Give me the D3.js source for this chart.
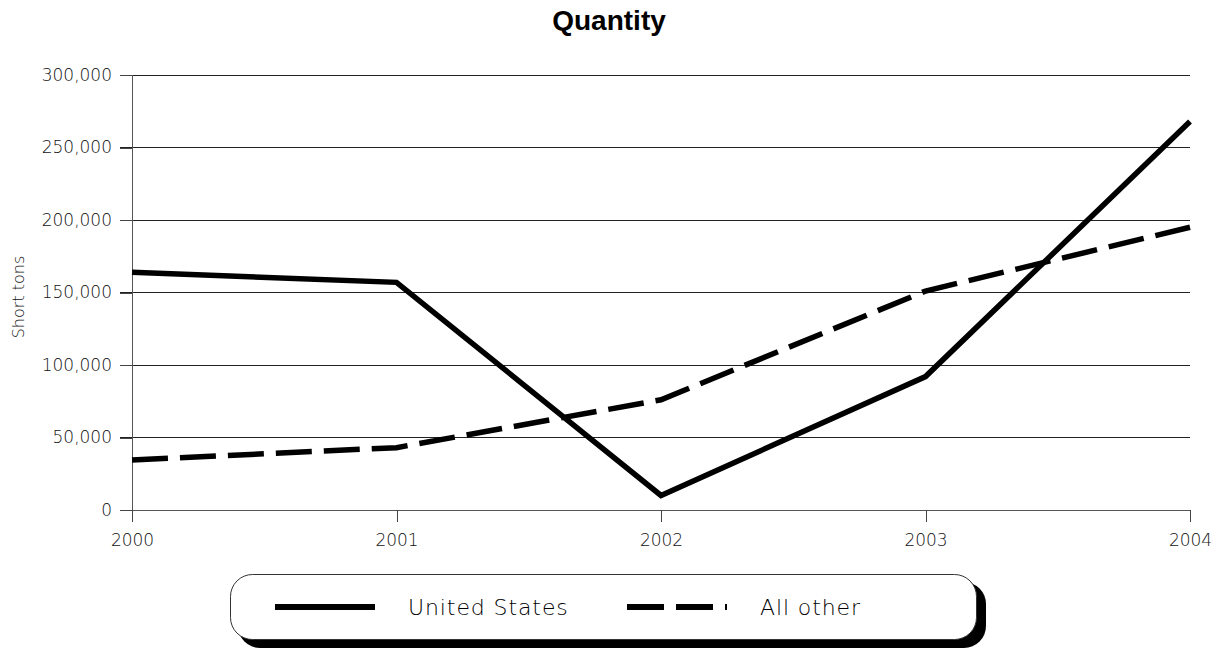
<!DOCTYPE html>
<html><head><meta charset="utf-8">
<script src="https://cdn.jsdelivr.net/npm/d3@7"></script>
<style>body{margin:0;background:#fff;}svg{display:block;}</style>
</head><body>
<script>
const years = [2000, 2001, 2002, 2003, 2004];
const unitedStates = [164000, 157000, 10000, 92000, 268000];
const allOther = [34500, 43000, 76000, 151000, 195000];
const yTicks = [0, 50000, 100000, 150000, 200000, 250000, 300000];
const seriesNames = ["United States", "All other"];

const W = 1228, H = 648;
const svg = d3.select("body").append("svg").attr("width", W).attr("height", H);
const m = {left: 132, right: 1190, top: 75, bottom: 510};
const x = d3.scaleLinear().domain([2000, 2004]).range([m.left, m.right]);
const y = d3.scaleLinear().domain([0, 300000]).range([m.bottom, m.top]);
const tfont = "Liberation Sans, Arial, sans-serif";
const lfont = "DejaVu Sans, sans-serif";

svg.append("text").attr("x", 609).attr("y", 30).attr("text-anchor", "middle")
  .attr("font-family", tfont).attr("font-weight", "bold").attr("font-size", 28).text("Quantity");

// gridlines
svg.append("g").selectAll("line").data(yTicks.slice(1)).join("line")
  .attr("x1", 120).attr("x2", m.right).attr("y1", d => y(d)).attr("y2", d => y(d))
  .attr("stroke", "#222").attr("stroke-width", 1).attr("shape-rendering", "crispEdges");

// y axis
const yAxis = d3.axisLeft(y).tickValues(yTicks).tickSize(12).tickPadding(8)
  .tickFormat(d3.format(","));
const gy = svg.append("g").attr("transform", `translate(${m.left},0)`).call(yAxis);
gy.select(".domain").attr("stroke", "#555").attr("shape-rendering", "crispEdges");
gy.selectAll(".tick line").attr("stroke", "#444").attr("shape-rendering", "crispEdges");
gy.selectAll(".tick text").attr("font-family", lfont).attr("font-weight", 200)
  .attr("font-size", 17).attr("fill", "#111");

// x axis
const xAxis = d3.axisBottom(x).tickValues(years).tickSize(12).tickPadding(12).tickFormat(d3.format("d"));
const gx = svg.append("g").attr("transform", `translate(0,${m.bottom})`).call(xAxis);
gx.select(".domain").attr("stroke", "#555").attr("shape-rendering", "crispEdges");
gx.selectAll(".tick line").attr("stroke", "#444").attr("shape-rendering", "crispEdges");
gx.selectAll(".tick text").attr("font-family", lfont).attr("font-weight", 200)
  .attr("font-size", 17).attr("fill", "#111");

svg.append("text").attr("transform", "translate(24,297) rotate(-90)")
  .attr("text-anchor", "middle").attr("font-family", lfont).attr("font-weight", 200)
  .attr("font-size", 16).attr("fill", "#111").text("Short tons");

const line = d3.line().x((d, i) => x(years[i])).y(d => y(d));
svg.append("path").datum(allOther).attr("d", line).attr("fill", "none")
  .attr("stroke", "#000").attr("stroke-width", 5.5).attr("stroke-dasharray", "36,12");
svg.append("path").datum(unitedStates).attr("d", line).attr("fill", "none")
  .attr("stroke", "#000").attr("stroke-width", 5.5).attr("stroke-linejoin", "miter");

// legend
const lg = svg.append("g");
lg.append("rect").attr("x", 238).attr("y", 582).attr("width", 748).attr("height", 66)
  .attr("rx", 22).attr("fill", "#000");
lg.append("rect").attr("x", 230.5).attr("y", 574.5).attr("width", 746).attr("height", 65)
  .attr("rx", 22).attr("fill", "#fff").attr("stroke", "#333").attr("stroke-width", 1);
lg.append("line").attr("x1", 275).attr("x2", 375).attr("y1", 607).attr("y2", 607)
  .attr("stroke", "#000").attr("stroke-width", 6);
lg.append("text").attr("x", 408).attr("y", 615).attr("font-family", lfont).attr("font-weight", 200)
  .attr("font-size", 22).attr("letter-spacing", 0.9).attr("fill", "#000").text(seriesNames[0]);
lg.append("line").attr("x1", 627).attr("x2", 727).attr("y1", 607).attr("y2", 607)
  .attr("stroke", "#000").attr("stroke-width", 6).attr("stroke-dasharray", "37,12");
lg.append("text").attr("x", 760).attr("y", 615).attr("font-family", lfont).attr("font-weight", 200)
  .attr("font-size", 22).attr("letter-spacing", 0.9).attr("fill", "#000").text(seriesNames[1]);
</script>
</body></html>
